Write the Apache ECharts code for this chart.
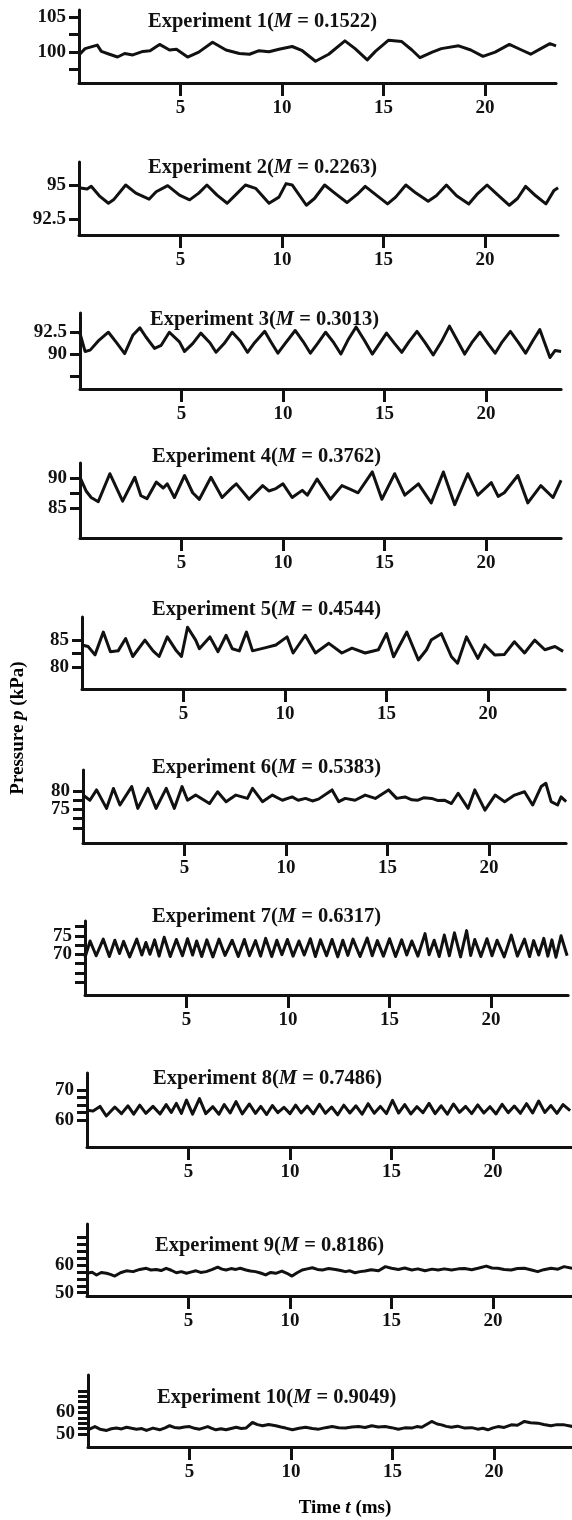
<!DOCTYPE html>
<html>
<head>
<meta charset="utf-8">
<script src="https://cdn.jsdelivr.net/npm/echarts@6/dist/echarts.min.js"></script>
<style>
  html, body { margin: 0; padding: 0; background: #fff; }
  #main { width: 572px; height: 1520px; }
</style>
</head>
<body>
<div id="main"></div>
<script>
// pressure traces, [time (ms), pressure (kPa)]
const exp1 = [[0, 99.6], [0.3, 100.5], [0.9, 101.0], [1.1, 100.1], [1.5, 99.7], [1.9, 99.3], [2.25, 99.8], [2.65, 99.6], [3.15, 100.1], [3.5, 100.2], [3.97, 101.1], [4.46, 100.3], [4.8, 100.4], [5.35, 99.3], [5.9, 100.0], [6.58, 101.4], [7.24, 100.3], [7.9, 99.8], [8.4, 99.7], [8.87, 100.2], [9.36, 100.05], [9.85, 100.4], [10.5, 100.8], [11.0, 100.2], [11.65, 98.7], [12.3, 99.7], [13.1, 101.6], [13.6, 100.5], [14.2, 98.9], [14.6, 100.1], [15.25, 101.7], [15.9, 101.5], [16.4, 100.3], [16.8, 99.2], [17.4, 100.0], [17.85, 100.5], [18.7, 100.9], [19.3, 100.3], [19.9, 99.4], [20.5, 100.0], [21.2, 101.1], [21.8, 100.3], [22.25, 99.7], [22.75, 100.5], [23.2, 101.2], [23.5, 100.9]];

const exp2 = [[0, 94.8], [0.4, 94.7], [0.6, 94.9], [1.0, 94.2], [1.45, 93.65], [1.7, 93.9], [2.3, 95.0], [2.8, 94.4], [3.45, 93.95], [3.8, 94.5], [4.37, 94.95], [4.95, 94.25], [5.45, 93.9], [5.9, 94.4], [6.3, 95.0], [6.8, 94.25], [7.3, 93.65], [7.8, 94.4], [8.2, 95.0], [8.7, 94.75], [9.36, 93.65], [9.85, 94.1], [10.2, 95.1], [10.5, 95.0], [11.2, 93.5], [11.6, 94.0], [12.1, 95.0], [12.6, 94.4], [13.2, 93.7], [13.7, 94.3], [14.1, 94.9], [14.6, 94.3], [15.2, 93.6], [15.6, 94.1], [16.1, 95.0], [16.6, 94.4], [17.2, 93.8], [17.6, 94.2], [18.1, 95.0], [18.6, 94.2], [19.2, 93.6], [19.6, 94.3], [20.1, 95.0], [20.6, 94.3], [21.2, 93.5], [21.6, 94.0], [22.0, 94.9], [22.5, 94.2], [23.0, 93.6], [23.4, 94.6], [23.6, 94.8]];

const exp3 = [[0, 92.35], [0.25, 90.3], [0.5, 90.45], [0.9, 91.5], [1.4, 92.5], [1.8, 91.3], [2.2, 90.05], [2.6, 92.15], [2.95, 93.0], [3.25, 91.95], [3.67, 90.65], [4.0, 91.0], [4.4, 92.5], [4.9, 91.4], [5.15, 90.3], [5.55, 91.2], [5.95, 92.4], [6.4, 91.3], [6.7, 90.2], [7.1, 91.2], [7.5, 92.5], [7.9, 91.5], [8.25, 90.2], [8.6, 91.3], [9.1, 92.6], [9.4, 91.4], [9.75, 90.1], [10.1, 91.2], [10.6, 92.7], [11.0, 91.4], [11.35, 90.1], [11.7, 91.2], [12.1, 92.5], [12.5, 91.3], [12.85, 90.0], [13.2, 91.6], [13.6, 93.1], [14.0, 91.6], [14.4, 90.0], [14.75, 91.2], [15.1, 92.4], [15.5, 91.2], [15.85, 90.2], [16.2, 91.4], [16.6, 92.6], [17.0, 91.3], [17.4, 89.9], [17.8, 91.4], [18.2, 93.2], [18.6, 91.5], [18.95, 90.0], [19.3, 91.3], [19.7, 92.5], [20.1, 91.2], [20.45, 90.1], [20.8, 91.4], [21.2, 92.6], [21.6, 91.3], [21.95, 90.1], [22.3, 91.5], [22.65, 92.8], [22.9, 91.2], [23.15, 89.6], [23.4, 90.4], [23.7, 90.3]];

const exp4 = [[0, 90.2], [0.3, 87.9], [0.55, 86.8], [0.9, 86.1], [1.47, 90.8], [2.1, 86.2], [2.7, 90.2], [3.0, 87.1], [3.3, 86.6], [3.76, 89.4], [4.1, 88.4], [4.3, 89.1], [4.65, 86.8], [5.15, 90.5], [5.55, 87.6], [5.88, 86.5], [6.45, 90.2], [7.0, 86.8], [7.5, 88.5], [7.7, 89.1], [8.33, 86.5], [9.0, 88.8], [9.3, 87.9], [9.65, 88.3], [10.0, 89.1], [10.45, 86.8], [10.95, 88.0], [11.2, 87.2], [11.68, 89.9], [12.34, 86.5], [12.9, 88.8], [13.3, 88.2], [13.7, 87.6], [14.4, 91.1], [14.87, 86.5], [15.5, 90.8], [16.0, 87.2], [16.67, 89.1], [17.3, 85.9], [17.9, 91.1], [18.46, 85.6], [19.1, 90.8], [19.6, 87.2], [20.26, 89.3], [20.6, 87.0], [20.9, 87.6], [21.57, 90.5], [22.06, 85.9], [22.7, 88.8], [23.3, 86.8], [23.7, 89.7]];

const exp5 = [[0, 84.1], [0.3, 83.8], [0.64, 82.25], [1.05, 86.5], [1.4, 82.85], [1.78, 83.0], [2.15, 85.3], [2.5, 81.95], [3.1, 85.0], [3.5, 83.0], [3.8, 81.95], [4.2, 85.6], [4.65, 83.0], [4.9, 81.95], [5.2, 87.4], [5.6, 85.0], [5.78, 83.4], [6.3, 85.6], [6.7, 82.85], [7.1, 85.9], [7.4, 83.4], [7.75, 83.0], [8.1, 86.5], [8.4, 83.0], [9.05, 83.6], [9.55, 84.1], [10.1, 85.6], [10.4, 82.6], [11.0, 85.9], [11.5, 82.6], [12.16, 84.4], [12.8, 82.6], [13.3, 83.5], [13.95, 82.6], [14.6, 83.2], [15.0, 86.2], [15.35, 81.9], [16.0, 86.5], [16.57, 81.3], [16.97, 83.2], [17.2, 85.0], [17.7, 86.2], [18.2, 81.9], [18.5, 80.7], [18.94, 85.6], [19.5, 81.6], [19.84, 84.1], [20.33, 82.25], [20.8, 82.3], [21.3, 84.7], [21.8, 82.6], [22.3, 85.0], [22.8, 83.2], [23.3, 83.8], [23.7, 82.9]];

const exp6 = [[0, 78.9], [0.34, 77.5], [0.67, 80.3], [1.16, 75.3], [1.5, 80.7], [1.82, 76.2], [2.4, 81.2], [2.7, 75.3], [3.2, 80.7], [3.6, 75.3], [4.1, 80.7], [4.5, 75.3], [4.88, 81.2], [5.15, 77.5], [5.55, 78.9], [6.23, 76.6], [6.63, 79.8], [7.05, 77.1], [7.53, 78.9], [8.1, 78.0], [8.35, 80.7], [8.84, 77.1], [9.33, 78.9], [9.82, 77.5], [10.3, 78.4], [10.6, 77.5], [10.96, 78.0], [11.3, 77.3], [11.6, 77.8], [12.27, 80.3], [12.6, 77.1], [12.92, 78.0], [13.4, 77.5], [13.9, 78.9], [14.4, 78.0], [15.05, 80.3], [15.45, 78.0], [15.86, 78.4], [16.2, 77.6], [16.5, 77.5], [16.8, 78.2], [17.17, 78.0], [17.5, 77.4], [17.8, 77.5], [18.15, 76.6], [18.48, 79.4], [18.97, 75.3], [19.3, 80.3], [19.8, 74.8], [20.3, 78.9], [20.77, 77.1], [21.26, 78.9], [21.75, 79.8], [22.15, 76.2], [22.57, 81.2], [22.8, 82.1], [23.06, 77.1], [23.38, 76.2], [23.55, 78.4], [23.8, 77.1]];

const exp7 = [[0, 69.1], [0.25, 73.6], [0.55, 69.6], [0.9, 74.1], [1.2, 69.4], [1.47, 73.8], [1.7, 70.2], [1.9, 73.5], [2.2, 69.3], [2.55, 74.1], [2.8, 69.8], [3.0, 73.2], [3.2, 70.0], [3.43, 73.9], [3.65, 69.5], [3.9, 74.6], [4.2, 69.4], [4.5, 74.0], [4.8, 69.6], [5.05, 74.2], [5.3, 69.8], [5.5, 73.6], [5.75, 69.4], [6.0, 73.9], [6.3, 69.3], [6.6, 74.1], [6.9, 69.7], [7.25, 73.8], [7.55, 69.4], [7.85, 74.0], [8.1, 69.6], [8.4, 73.7], [8.65, 69.5], [8.9, 74.3], [9.2, 69.4], [9.45, 73.8], [9.7, 69.9], [9.97, 74.0], [10.25, 69.5], [10.54, 73.6], [10.8, 69.8], [11.1, 74.2], [11.35, 69.4], [11.6, 73.9], [11.9, 69.6], [12.17, 74.0], [12.45, 69.3], [12.7, 73.8], [12.95, 69.7], [13.2, 74.1], [13.55, 69.4], [13.9, 74.4], [14.15, 69.6], [14.4, 73.7], [14.7, 69.5], [15.0, 74.2], [15.3, 69.4], [15.6, 73.9], [15.85, 69.8], [16.1, 73.6], [16.4, 69.5], [16.75, 75.6], [16.95, 69.9], [17.2, 73.8], [17.45, 69.4], [17.7, 75.2], [17.95, 69.6], [18.2, 75.8], [18.5, 69.3], [18.8, 76.4], [19.0, 69.7], [19.2, 74.0], [19.5, 69.4], [19.8, 74.2], [20.05, 69.6], [20.3, 73.8], [20.65, 69.3], [21.0, 75.2], [21.3, 69.5], [21.65, 74.1], [21.9, 69.4], [22.1, 73.7], [22.35, 69.8], [22.6, 74.3], [22.8, 69.5], [23.0, 73.9], [23.2, 69.2], [23.45, 75.0], [23.75, 69.6]];

const exp8 = [[0, 63.3], [0.3, 63.1], [0.64, 64.6], [0.95, 61.4], [1.37, 64.4], [1.7, 62.2], [2.02, 64.8], [2.3, 62.0], [2.6, 65.0], [2.9, 62.3], [3.25, 64.6], [3.6, 62.1], [3.9, 65.2], [4.15, 62.6], [4.4, 65.6], [4.65, 62.3], [4.9, 66.7], [5.2, 62.0], [5.54, 67.2], [5.85, 62.2], [6.2, 64.5], [6.5, 62.0], [6.76, 65.2], [7.05, 62.4], [7.34, 66.2], [7.65, 62.1], [8.0, 65.4], [8.3, 62.3], [8.56, 64.6], [8.85, 61.9], [9.13, 64.9], [9.4, 62.5], [9.7, 64.3], [10.0, 62.2], [10.28, 65.0], [10.55, 62.4], [10.85, 64.7], [11.15, 62.1], [11.45, 65.3], [11.75, 62.3], [12.05, 64.4], [12.35, 61.8], [12.65, 65.0], [12.95, 62.4], [13.25, 64.8], [13.55, 62.0], [13.85, 65.5], [14.15, 62.3], [14.45, 64.6], [14.75, 62.2], [15.05, 66.6], [15.35, 62.4], [15.65, 65.2], [15.95, 62.1], [16.25, 64.5], [16.55, 62.5], [16.85, 65.6], [17.15, 62.2], [17.45, 64.8], [17.75, 62.0], [18.05, 65.4], [18.35, 62.6], [18.65, 64.6], [18.95, 62.2], [19.25, 65.1], [19.55, 62.4], [19.85, 64.5], [20.15, 62.1], [20.45, 65.3], [20.75, 62.5], [21.05, 64.7], [21.35, 62.3], [21.65, 65.5], [21.95, 62.4], [22.25, 66.4], [22.55, 62.6], [22.85, 64.9], [23.15, 62.3], [23.45, 65.2], [23.8, 63.2]];

const exp9 = [[0, 57.0], [0.25, 57.4], [0.47, 56.4], [0.7, 57.3], [0.96, 57.0], [1.15, 56.6], [1.37, 56.0], [1.65, 57.2], [1.94, 57.9], [2.27, 57.6], [2.6, 58.4], [2.92, 58.8], [3.15, 58.2], [3.41, 58.4], [3.65, 58.0], [3.9, 58.8], [4.15, 58.1], [4.4, 57.2], [4.65, 57.6], [4.9, 57.0], [5.15, 57.5], [5.37, 57.9], [5.6, 57.3], [5.87, 57.6], [6.15, 58.3], [6.44, 59.2], [6.65, 58.5], [6.85, 58.2], [7.1, 58.7], [7.33, 58.4], [7.55, 58.8], [7.83, 58.2], [8.05, 57.8], [8.3, 57.6], [8.55, 57.1], [8.8, 56.4], [9.05, 57.3], [9.3, 57.0], [9.6, 57.8], [9.85, 57.0], [10.1, 56.0], [10.35, 57.2], [10.6, 58.2], [10.85, 58.6], [11.1, 59.0], [11.35, 58.4], [11.6, 58.2], [11.9, 58.7], [12.24, 58.4], [12.5, 58.0], [12.73, 57.6], [12.95, 57.9], [13.2, 57.2], [13.45, 57.6], [13.7, 57.8], [14.0, 58.3], [14.36, 57.9], [14.7, 59.4], [15.0, 58.8], [15.34, 58.4], [15.65, 58.9], [16.0, 58.2], [16.3, 58.6], [16.65, 57.9], [17.0, 58.5], [17.3, 58.2], [17.6, 58.6], [17.96, 58.2], [18.3, 58.6], [18.6, 58.7], [18.95, 58.3], [19.26, 58.8], [19.67, 59.6], [19.95, 58.9], [20.24, 58.8], [20.55, 58.4], [20.9, 58.2], [21.2, 58.7], [21.55, 58.8], [21.9, 58.2], [22.2, 57.6], [22.5, 58.3], [22.86, 58.8], [23.2, 58.5], [23.5, 59.4], [23.9, 58.8]];

const exp10 = [[0, 51.9], [0.34, 53.4], [0.59, 52.2], [0.92, 51.6], [1.15, 52.4], [1.4, 52.7], [1.65, 52.3], [1.9, 53.1], [2.15, 52.6], [2.39, 52.2], [2.65, 52.5], [2.88, 51.6], [3.2, 52.7], [3.53, 51.9], [3.8, 52.8], [4.02, 53.8], [4.25, 53.0], [4.5, 52.7], [4.75, 53.2], [5.0, 53.4], [5.25, 52.6], [5.5, 52.2], [5.9, 53.4], [6.1, 52.6], [6.3, 51.9], [6.55, 52.4], [6.8, 51.9], [7.05, 52.5], [7.3, 53.1], [7.55, 52.5], [7.78, 52.7], [8.1, 55.3], [8.35, 54.3], [8.6, 53.8], [8.9, 54.4], [9.25, 53.8], [9.5, 53.2], [9.74, 52.7], [10.07, 51.9], [10.4, 52.6], [10.72, 53.1], [11.05, 52.5], [11.37, 52.2], [11.7, 52.9], [12.03, 53.4], [12.35, 52.9], [12.68, 52.7], [13.0, 53.2], [13.33, 53.4], [13.65, 53.0], [13.98, 53.8], [14.3, 53.2], [14.64, 53.4], [14.95, 52.9], [15.29, 52.2], [15.6, 52.8], [15.95, 52.7], [16.2, 53.4], [16.44, 53.1], [16.93, 55.8], [17.2, 54.6], [17.42, 54.2], [17.65, 53.5], [17.9, 53.1], [18.2, 53.6], [18.56, 52.7], [18.9, 52.9], [19.2, 52.2], [19.45, 52.6], [19.7, 51.9], [19.95, 52.8], [20.2, 53.4], [20.5, 53.0], [20.85, 54.2], [21.15, 54.0], [21.5, 55.8], [21.8, 55.2], [22.16, 55.0], [22.45, 54.4], [22.8, 53.8], [23.1, 54.3], [23.46, 54.2], [23.9, 53.4]];

const traces = [exp1, exp2, exp3, exp4, exp5, exp6, exp7, exp8, exp9, exp10];
const machNumbers = ['0.1522', '0.2263', '0.3013', '0.3762', '0.4544', '0.5383', '0.6317', '0.7486', '0.8186', '0.9049'];

// pressure axis extents and ticks per experiment
const yRanges = [[95.6, 106], [91.3, 96.7], [86, 94.7], [80, 92.6], [75.9, 89.3], [65.9, 85.7], [59, 79], [51.1, 75.7], [48.8, 74.8], [43.9, 77.4]];
const yTicks = [
  [105, 102.5, 100, 97.5],
  [95, 92.5],
  [92.5, 90, 87.5],
  [90, 87.5, 85],
  [85, 82.5, 80],
  [80, 77.5, 75, 72.5, 70],
  [77.5, 75, 72.5, 70, 67.5, 65, 62.5],
  [70, 67.5, 65, 62.5, 60],
  [70, 67.5, 65, 62.5, 60, 57.5, 55, 52.5, 50],
  [70, 67.5, 65, 62.5, 60, 57.5, 55, 52.5, 50]
];
// upper and lower labelled pressure ticks
const yLabels = [[105, 100], [95, 92.5], [92.5, 90], [90, 85], [85, 80], [80, 75], [75, 70], [70, 60], [60, 50], [60, 50]];
const timeTicks = [5, 10, 15, 20];

const chart = echarts.init(document.getElementById('main'));

// layout (the page is slightly skewed, so left drifts)
const panels = [
  { left: 79, top: 10, bottom: 83, xMax: 23.5, titleX: 148, titleY: 22 },
  { left: 79, top: 162, bottom: 235, xMax: 23.6, titleX: 148, titleY: 168 },
  { left: 80, top: 313, bottom: 389, xMax: 23.7, titleX: 150, titleY: 320 },
  { left: 80, top: 463, bottom: 538, xMax: 23.7, titleX: 152, titleY: 457 },
  { left: 82, top: 617, bottom: 689, xMax: 23.8, titleX: 152, titleY: 610 },
  { left: 83, top: 770, bottom: 843, xMax: 23.8, titleX: 152, titleY: 768 },
  { left: 85, top: 921, bottom: 995, xMax: 23.8, titleX: 152, titleY: 917 },
  { left: 87, top: 1073, bottom: 1147, xMax: 24, titleX: 153, titleY: 1079 },
  { left: 87, top: 1224, bottom: 1296, xMax: 24, titleX: 155, titleY: 1246 },
  { left: 88, top: 1375, bottom: 1447, xMax: 24, titleX: 157, titleY: 1398 }
];
const pxPerMs = 20.3;
const FONT = 'Liberation Serif';
const INK = '#111';

const richText = (size) => ({
  a: { fontFamily: FONT, fontWeight: 'bold', fontSize: size, color: INK },
  m: { fontFamily: FONT, fontWeight: 'bold', fontStyle: 'italic', fontSize: size, color: INK }
});

const tickLabelStyle = { margin: 13, fontFamily: FONT, fontWeight: 'bold', fontSize: 19, color: INK };

const grid = [], xAxis = [], yAxis = [], series = [], title = [];

panels.forEach((p, i) => {
  grid.push({
    left: p.left, top: p.top,
    width: p.xMax * pxPerMs, height: p.bottom - p.top,
    containLabel: false, outerBoundsMode: 'none'
  });
  xAxis.push({
    gridIndex: i, type: 'value', min: 0, max: p.xMax,
    axisLine: { show: true, onZero: false, lineStyle: { color: INK, width: 3 } },
    axisTick: { show: true, length: 13, customValues: timeTicks, lineStyle: { color: INK, width: 3 } },
    axisLabel: { customValues: timeTicks, margin: 16, fontFamily: FONT, fontWeight: 'bold', fontSize: 19, color: INK },
    splitLine: { show: false }
  });
  // two left y axes share each grid so the tightly stacked labels are not culled
  yAxis.push({
    gridIndex: i, type: 'value', position: 'left', offset: 0,
    min: yRanges[i][0], max: yRanges[i][1],
    axisLine: { show: true, onZero: false, lineStyle: { color: INK, width: 3 } },
    axisTick: { show: true, length: 10, customValues: yTicks[i], lineStyle: { color: INK, width: 3 } },
    axisLabel: Object.assign({ customValues: [yLabels[i][0]] }, tickLabelStyle),
    splitLine: { show: false }
  });
  yAxis.push({
    gridIndex: i, type: 'value', position: 'left', offset: 0,
    min: yRanges[i][0], max: yRanges[i][1],
    axisLine: { show: false, onZero: false },
    axisTick: { show: false },
    axisLabel: Object.assign({ customValues: [yLabels[i][1]] }, tickLabelStyle),
    splitLine: { show: false }
  });
  series.push({
    type: 'line', xAxisIndex: i, yAxisIndex: 2 * i,
    data: traces[i], symbol: 'none', smooth: false, silent: true,
    lineStyle: { color: INK, width: 3, join: 'round' }
  });
  title.push({
    text: '{a|Experiment ' + (i + 1) + '(}{m|M}{a| = ' + machNumbers[i] + ')}',
    left: p.titleX, top: p.titleY - 11, padding: 0,
    textStyle: { rich: richText(20.5) }
  });
});

option = {
  animation: false,
  backgroundColor: '#fff',
  title: title,
  grid: grid,
  xAxis: xAxis,
  yAxis: yAxis,
  series: series,
  graphic: [
    {
      type: 'text', x: 18, y: 728, rotation: Math.PI / 2,
      style: { text: '{a|Pressure }{m|p}{a| (kPa)}', rich: richText(19), align: 'center', verticalAlign: 'middle' }
    },
    {
      type: 'text', x: 345, y: 1508,
      style: { text: '{a|Time }{m|t}{a| (ms)}', rich: richText(19), align: 'center', verticalAlign: 'middle' }
    }
  ]
};

chart.setOption(option);
</script>
</body>
</html>
